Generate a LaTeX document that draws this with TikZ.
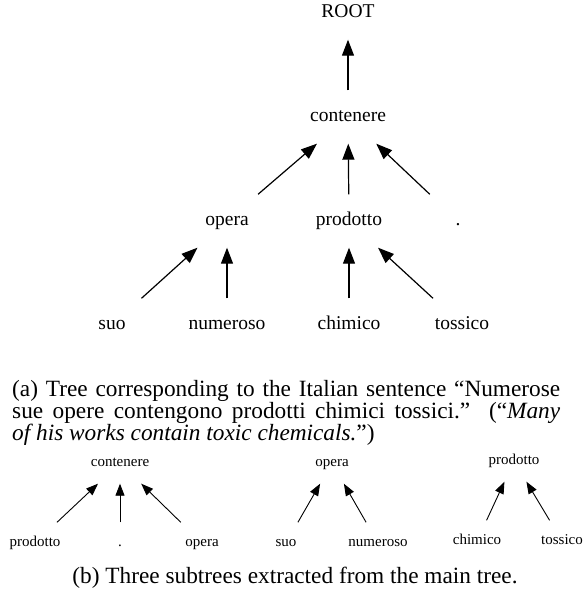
\documentclass[tikz,border=0pt]{standalone}
\usepackage{fontspec}
\setmainfont{Liberation Serif}
\usetikzlibrary{arrows.meta}

\tikzset{
  word/.style={font=\fontsize{19.5}{22}\selectfont, inner sep=0pt,
    text height=13pt, text depth=4pt, minimum width=70pt, minimum height=53pt},
  subword/.style={font=\fontsize{15}{18}\selectfont, inner sep=0pt,
    text height=10pt, text depth=3pt, minimum width=50pt, minimum height=41pt},
  dep/.style={-{Triangle[length=16pt, width=12pt]}, line width=1.2pt},
  subdep/.style={-{Triangle[length=12pt, width=9pt]}, line width=0.9pt},
  capline/.style={font=\fontsize{23.3}{22}\selectfont, inner sep=0pt, anchor=base west}
}

\begin{document}
\begin{tikzpicture}[x=1pt, y=-1pt]
			\useasboundingbox (0,0) rectangle (584,593);

			% main tree
			\node[word] (root) at (348, 13) {ROOT};
			\node[word] (cont) at (348, 117) {contenere};
			\node[word] (opera) at (227, 221) {opera};
			\node[word] (prod) at (349, 221) {prodotto};
			\node[word] (punct) at (458, 221) {.};
			\node[word] (suo) at (112, 325) {suo};
			\node[word] (num) at (227, 325) {numeroso};
			\node[word] (chim) at (349, 325) {chimico};
			\node[word] (toss) at (462, 325) {tossico};

			\draw[dep] (cont) -- (root);
			\draw[dep] (opera) -- (cont);
			\draw[dep] (prod) -- (cont);
			\draw[dep] (punct) -- (cont);
			\draw[dep] (suo) -- (opera);
			\draw[dep] (num) -- (opera);
			\draw[dep] (chim) -- (prod);
			\draw[dep] (toss) -- (prod);

			% caption (a)
			\node[capline] (capa1) at (12, 396) {\makebox[548pt][s]{(a) Tree corresponding to the Italian sentence ``Numerose}};
			\node[capline] (capa2) at (12, 418) {\makebox[548pt][s]{sue opere contengono prodotti chimici tossici.''\ \ (``\textit{Many}}};
			\node[capline] (capa3) at (12, 440) {\textit{of his works contain toxic chemicals.}'')};

			% subtrees
			\node[subword] (scont) at (120, 463) {contenere};
			\node[subword] (sprod) at (35, 543) {prodotto};
			\node[subword] (spunct) at (120, 543) {.};
			\node[subword] (sopera) at (202, 543) {opera};
			\draw[subdep] (sprod) -- (scont);
			\draw[subdep] (spunct) -- (scont);
			\draw[subdep] (sopera) -- (scont);

			\node[subword] (sop) at (332, 463) {opera};
			\node[subword] (ssuo) at (286, 543) {suo};
			\node[subword] (snum) at (378, 543) {numeroso};
			\draw[subdep] (ssuo) -- (sop);
			\draw[subdep] (snum) -- (sop);

			\node[subword] (spr) at (514, 461) {prodotto};
			\node[subword] (schim) at (477, 541) {chimico};
			\node[subword] (stoss) at (562, 541) {tossico};
			\draw[subdep] (schim) -- (spr);
			\draw[subdep] (stoss) -- (spr);

			% caption (b)
			\node[font=\fontsize{23.3}{22}\selectfont, inner sep=0pt, anchor=base] (capb) at (295, 583) {(b) Three subtrees extracted from the main tree.};
		\end{tikzpicture}
\end{document}
